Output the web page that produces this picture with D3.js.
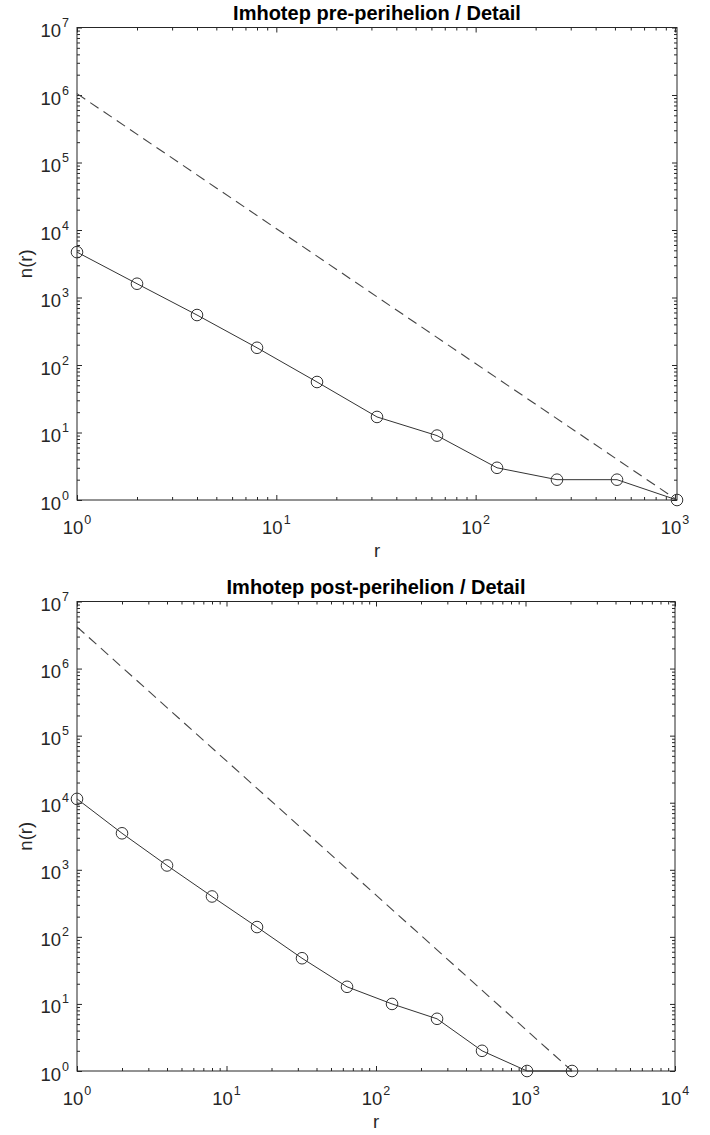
<!DOCTYPE html>
<html>
<head>
<meta charset="utf-8">
<script src="https://cdn.jsdelivr.net/npm/d3@7"></script>
<style>
  body { margin: 0; background: #fff; }
  svg { display: block; font-family: "Liberation Sans", Arial, sans-serif; }
</style>
</head>
<body>
<svg id="chart" width="710" height="1135"></svg>
<script>
// pre-perihelion counts per size bin (powers of two)
const preTitle = "Imhotep pre-perihelion / Detail";
const preR = [1, 2, 4, 8, 16, 32, 64, 128, 256, 512, 1024];
const preN = [4700, 1600, 550, 180, 56, 17, 9, 3, 2, 2, 1];
const preRefR = [1, 1024];
const preRefN = [1048576, 1];
const preXDomain = [1, 1024];

// post-perihelion
const postTitle = "Imhotep post-perihelion / Detail";
const postR = [1, 2, 4, 8, 16, 32, 64, 128, 256, 512, 1024, 2048];
const postN = [11400, 3500, 1160, 400, 140, 48, 18, 10, 6, 2, 1, 1];
const postRefR = [1, 2048];
const postRefN = [4194304, 1];
const postXDomain = [1, 10000];

const yDomain = [1, 1e7];
const xLabel = "r";
const yLabel = "n(r)";

const ink = "#262626";
const svg = d3.select("#chart");

const panels = [
  { title: preTitle, r: preR, n: preN, refR: preRefR, refN: preRefN, xDomain: preXDomain,
    left: 77, right: 677, top: 27.5, bottom: 500 },
  { title: postTitle, r: postR, n: postN, refR: postRefR, refN: postRefN, xDomain: postXDomain,
    left: 77, right: 675, top: 601.5, bottom: 1071 }
];

function pow10Label(sel, v) {
  const e = Math.round(Math.log10(v));
  sel.append("tspan").text("10");
  sel.append("tspan").attr("dy", -10).attr("dx", 1).attr("font-size", 12.5).text(e);
}

panels.forEach((p) => {
  const x = d3.scaleLog().domain(p.xDomain).range([p.left, p.right]);
  const y = d3.scaleLog().domain(yDomain).range([p.bottom, p.top]);
  const g = svg.append("g");

  const xAll = x.ticks();
  const yAll = y.ticks();
  const isMajor = (v) => Math.abs(Math.log10(v) - Math.round(Math.log10(v))) < 1e-9;
  const xMajor = xAll.filter(isMajor);
  const yMajor = yAll.filter(isMajor);
  const xMinor = xAll.filter((v) => !isMajor(v));
  const yMinor = yAll.filter((v) => !isMajor(v));

  // inward ticks on all four sides
  const axes = [
    [d3.axisBottom(x), p.bottom, "x"],
    [d3.axisTop(x), p.top, "x"],
    [d3.axisLeft(y), p.left, "y"],
    [d3.axisRight(y), p.right, "y"]
  ];
  axes.forEach(([ax, pos, dim]) => {
    [[dim === "x" ? xMajor : yMajor, 5], [dim === "x" ? xMinor : yMinor, 3]].forEach(([vals, len]) => {
      const a = g.append("g")
        .attr("transform", dim === "x" ? `translate(0,${pos})` : `translate(${pos},0)`)
        .call(ax.tickValues(vals).tickSizeInner(-len).tickSizeOuter(0).tickFormat(""));
      a.select(".domain").remove();
      a.selectAll("line").attr("stroke", ink).attr("stroke-width", 1);
    });
  });

  g.append("rect")
    .attr("x", p.left).attr("y", p.top)
    .attr("width", p.right - p.left).attr("height", p.bottom - p.top)
    .attr("fill", "none").attr("stroke", ink).attr("stroke-width", 1);

  // tick labels
  g.selectAll(".xl").data(xMajor).join("text")
    .attr("x", (d) => x(d)).attr("y", p.bottom + 34)
    .attr("text-anchor", "middle").attr("font-size", 18.5).attr("fill", ink)
    .each(function (d) { pow10Label(d3.select(this), d); });

  g.selectAll(".yl").data(yMajor).join("text")
    .attr("x", p.left - 8).attr("y", (d) => y(d) + 9.5)
    .attr("text-anchor", "end").attr("font-size", 18.5).attr("fill", ink)
    .each(function (d) { pow10Label(d3.select(this), d); });

  // titles and axis labels
  g.append("text")
    .attr("x", (p.left + p.right) / 2).attr("y", p.top - 7.5)
    .attr("text-anchor", "middle").attr("font-size", 20).attr("font-weight", "bold")
    .attr("fill", "#000").text(p.title);

  g.append("text")
    .attr("x", (p.left + p.right) / 2).attr("y", p.bottom + 57)
    .attr("text-anchor", "middle").attr("font-size", 18.5).attr("fill", ink).text(xLabel);

  g.append("text")
    .attr("transform", `translate(32,${(p.top + p.bottom) / 2}) rotate(-90)`)
    .attr("text-anchor", "middle").attr("font-size", 18.5).attr("fill", ink).text(yLabel);

  // reference power law (dashed)
  const line = d3.line().x((d) => x(d[0])).y((d) => y(d[1]));
  g.append("path")
    .datum(d3.zip(p.refR, p.refN))
    .attr("d", line)
    .attr("fill", "none").attr("stroke", "#444").attr("stroke-width", 1.1)
    .attr("stroke-dasharray", "10,6");

  // observed distribution
  const pts = d3.zip(p.r, p.n);
  g.append("path")
    .datum(pts)
    .attr("d", line)
    .attr("fill", "none").attr("stroke", "#333").attr("stroke-width", 1);

  g.selectAll(".pt").data(pts).join("circle")
    .attr("cx", (d) => x(d[0])).attr("cy", (d) => y(d[1]))
    .attr("r", 5.8)
    .attr("fill", "none").attr("stroke", "#333").attr("stroke-width", 1);
});
</script>
</body>
</html>
